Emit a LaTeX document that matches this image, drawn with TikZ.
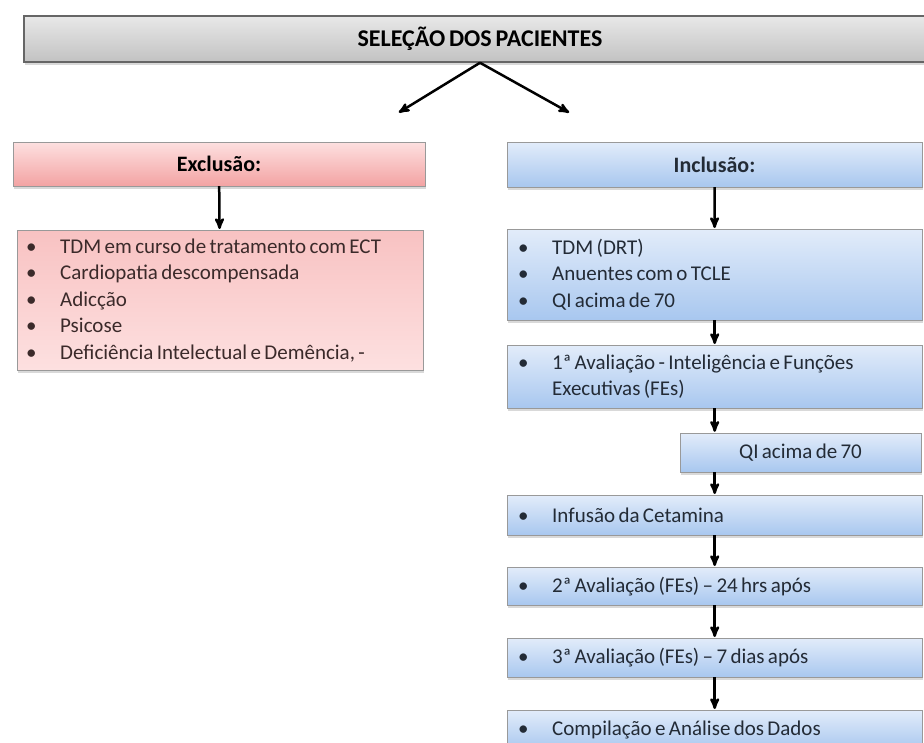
\documentclass[tikz,border=0pt]{standalone}
\usepackage{fontspec}
\setmainfont{Carlito}[WordSpace=0.7]
\usetikzlibrary{positioning,arrows,shadows}
\definecolor{greytop}{HTML}{E8E8E8}
\definecolor{greybot}{HTML}{C2C2C2}
\definecolor{redtop}{HTML}{FDE0E0}
\definecolor{redbot}{HTML}{F3A3A3}
\definecolor{redmid}{HTML}{F8C2C2}
\definecolor{bluetop}{HTML}{E2ECFA}
\definecolor{bluebot}{HTML}{A8C7EF}
\definecolor{txtred}{HTML}{3B2A2A}
\definecolor{txtblue}{HTML}{232B36}
\newcommand{\bul}{\makebox[34pt][l]{\textbullet}}

\begin{document}
\begin{tikzpicture}[x=1pt,y=-1pt,font=\fontsize{21}{26.5}\selectfont]
  \tikzstyle{box}=[draw,inner sep=0pt,drop shadow={shadow xshift=1pt,shadow yshift=-2.5pt,opacity=.3}]
  \tikzstyle{greybox}=[box,draw=black!60,line width=1.5pt,top color=greytop,bottom color=greybot]
  \tikzstyle{redhead}=[box,draw=black!40,top color=redtop,bottom color=redbot]
  \tikzstyle{redlist}=[box,draw=black!40,top color=redmid,bottom color=redtop,text=txtred]
  \tikzstyle{bluebox}=[box,draw=black!40,top color=bluetop,bottom color=bluebot,text=txtblue]
  \tikzstyle{list}=[anchor=north west,align=left,execute at begin node={\spaceskip=.16em\relax}]
  \tikzstyle{step list}=[bluebox,list,text width=393,inner xsep=11,minimum width=415]
  \tikzstyle{head}=[font=\bfseries\fontsize{22}{26}\selectfont]
  \tikzstyle{arr}=[-stealth',line width=2.5pt,shorten >=1pt]
  \useasboundingbox (0,0) rectangle (924,742);

  \node[greybox,minimum width=912,minimum height=46,font=\bfseries\fontsize{24}{28}\selectfont] (sel) at (480,39) {SELEÇÃO DOS PACIENTES};
  \coordinate (left) at (398,113);
  \coordinate (right) at (570,113);

  % exclusao
  \node[redhead,head,minimum width=412,minimum height=44] (exc) at (219,164) {Exclusão:};
  \node[redlist,list,text width=388,inner xsep=9,minimum height=140] (excl) at (17,230)
    {\bul TDM em curso de tratamento com ECT\\ \bul Cardiopatia descompensada\\ \bul Adicção\\ \bul Psicose\\ \bul Deficiência Intelectual e Demência, -};

  % inclusao
  \node[bluebox,head,minimum width=415,minimum height=45] (inc) at (714.5,164.5) {Inclusão:};
  \node[step list,minimum height=91] (incl) at (507,229)
    {\bul TDM (DRT)\\ \bul Anuentes com o TCLE\\ \bul QI acima de 70};
  \node[step list,minimum height=63] (av1) at (507,345)
    {\bul 1ª Avaliação - Inteligência e Funções\\ \hspace*{34pt}Executivas (FEs)};
  \node[bluebox,minimum width=241,minimum height=39] (qi) at (800.5,452.5) {QI acima de 70};
  \node[step list,minimum height=40] (inf) at (507,495) {\bul Infusão da Cetamina};
  \node[step list,minimum height=38] (av2) at (507,567) {\bul 2ª Avaliação (FEs) -- 24 hrs após};
  \node[step list,minimum height=39] (av3) at (507,638) {\bul 3ª Avaliação (FEs) -- 7 dias após};
  \node[step list,minimum height=40] (comp) at (507,710) {\bul Compilação e Análise dos Dados};

  \draw[arr] (sel.south) -- (left);
  \draw[arr] (sel.south) -- (right);
  \draw[arr] (exc) -- (excl);
  \draw[arr] (inc) -- (incl);
  \draw[arr] (incl) -- (av1);
  \draw[arr] (av1) -- (av1 |- qi.north);
  \draw[arr] (inf |- qi.south) -- (inf);
  \draw[arr] (inf) -- (av2);
  \draw[arr] (av2) -- (av3);
  \draw[arr] (av3) -- (comp);
\end{tikzpicture}
\end{document}
